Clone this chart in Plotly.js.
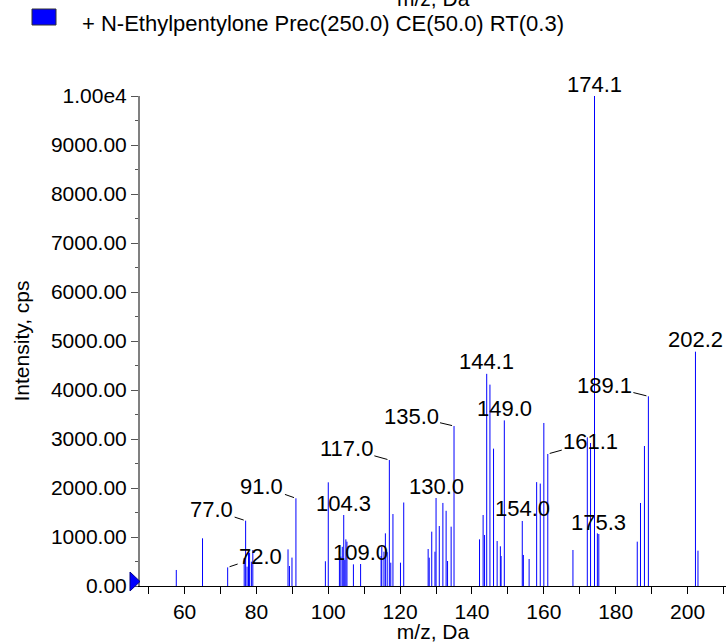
<!DOCTYPE html>
<html>
<head>
<meta charset="utf-8">
<script src="https://cdn.plot.ly/plotly-3.0.1.min.js"></script>
<style>
html,body{margin:0;padding:0;background:#fff;}
#chart{width:726px;height:643px;}
</style>
</head>
<body>
<div id="chart"></div>
<script>
// ---- data ----
const mz = [57.7, 65.0, 72.0, 76.6, 77.0, 77.4, 77.8, 78.1, 78.6, 79.0,
  88.8, 89.2, 89.9, 91.0, 99.2, 100.0, 103.1, 103.5, 103.9, 104.3,
  104.6, 104.9, 105.2, 107.0, 109.0, 114.7, 114.9, 115.5, 115.9, 116.4,
  117.0, 117.4, 118.0, 120.1, 121.0, 127.8, 128.1, 128.8, 129.7, 130.0,
  130.9, 131.9, 132.8, 133.2, 134.2, 135.0, 142.1, 143.1, 143.5, 144.1,
  145.0, 146.0, 147.0, 147.9, 148.1, 149.0, 154.0, 154.3, 155.9, 158.0,
  159.0, 160.0, 161.1, 168.1, 172.1, 173.0, 174.1, 174.9, 175.3, 186.0,
  186.9, 188.0, 189.1, 202.2, 202.9];
const intensity = [327, 973, 380, 570, 1333, 395, 700, 680, 496, 735,
  748, 408, 580, 1790, 505, 2116, 720, 600, 800, 1449,
  530, 952, 905, 442, 449, 612, 803, 700, 1075, 690,
  2571, 476, 1469, 476, 1704, 755, 578, 1109, 700, 1796,
  1224, 1695, 1535, 510, 1211, 3265, 952, 1449, 1041, 4330,
  4110, 2803, 918, 810, 612, 3380, 1327, 633, 551, 2120,
  2090, 3327, 2694, 735, 3034, 2918, 10000, 1075, 1061, 905,
  1694, 2857, 3871, 4782, 721];
const labelledMz = [72.0, 77.0, 91.0, 104.3, 109.0, 117.0, 130.0, 135.0,
  144.1, 149.0, 154.0, 161.1, 174.1, 175.3, 189.1, 202.2];
const yTickVals = [0, 1000, 2000, 3000, 4000, 5000, 6000, 7000, 8000, 9000, 10000];
const yTickText = ["0.00", "1000.00", "2000.00", "3000.00", "4000.00", "5000.00",
  "6000.00", "7000.00", "8000.00", "9000.00", "1.00e4"];
const seriesName = "+ N-Ethylpentylone Prec(250.0) CE(50.0) RT(0.3)";

// ---- styling / placement ----
const FONT = "Liberation Sans, Arial, sans-serif";
// label offsets in pixels (text centre relative to peak top); leader = drawn line
const labelOffsets = {
  "72.0": [33, -11, true], "77.0": [-34, -11, true], "91.0": [-34, -12, true],
  "117.0": [-43, -12, true], "135.0": [-43, -10, true], "161.1": [43, -12, true],
  "189.1": [-44, -11, true]
};

// stick spectrum built from the arrays
const xs = [], ys = [];
mz.forEach((m, i) => { xs.push(m, m, null); ys.push(0, intensity[i], null); });

const minorY = [];
for (let v = 500; v < 10000; v += 1000) minorY.push(v);

const annotations = labelledMz.map(m => {
  const idx = mz.indexOf(m);
  const off = labelOffsets[m.toFixed(1)] || [0, -12, false];
  return {
    x: m, y: intensity[idx], xref: "x", yref: "y",
    text: m.toFixed(1), showarrow: true, ax: off[0], ay: off[1],
    arrowhead: 0, arrowwidth: 1, standoff: 2,
    arrowcolor: off[2] ? "#000" : "rgba(0,0,0,0)",
    font: {family: FONT, size: 22, color: "#000"}
  };
});
// legend text
annotations.push({
  xref: "paper", yref: "paper", x: (80 - 140) / 586, y: (586 - 23) / 490,
  xanchor: "left", yanchor: "middle", showarrow: false,
  text: seriesName, font: {family: FONT, size: 22, color: "#000"}
});
// partially visible axis title of the panel above
annotations.push({
  xref: "paper", yref: "paper", x: 0.5, y: (586 + 1.5) / 490,
  xanchor: "center", yanchor: "middle", showarrow: false,
  text: "m/z, Da", font: {family: FONT, size: 21, color: "#000"}
});

const shapes = [
  // legend swatch
  {type: "rect", xref: "paper", yref: "paper",
   x0: (32 - 140) / 586, x1: (56 - 140) / 586,
   y0: (586 - 25) / 490, y1: (586 - 9) / 490,
   fillcolor: "#0000ff", line: {color: "#333", width: 1}},
  // baseline marker triangle
  {type: "path", xref: "paper", yref: "paper",
   path: "M " + (-10 / 586) + " " + (14 / 490) + " L " + (-10 / 586) + " " + (-5 / 490) +
         " L 0 " + (4.5 / 490) + " Z",
   fillcolor: "#0000ff", line: {color: "#00008b", width: 1}}
];

const data = [{
  type: "scatter", mode: "lines", x: xs, y: ys,
  line: {color: "#0000ff", width: 1}, hoverinfo: "skip", showlegend: false
}];

const layout = {
  width: 726, height: 643,
  margin: {l: 140, r: 0, t: 96, b: 57},
  paper_bgcolor: "#fff", plot_bgcolor: "#fff",
  showlegend: false,
  font: {family: FONT, size: 21, color: "#000"},
  xaxis: {
    range: [47.6, 210.7], showgrid: false, zeroline: false,
    showline: true, linecolor: "#000", linewidth: 1,
    ticks: "outside", ticklen: 7, tickcolor: "#000", tickwidth: 1,
    tick0: 0, dtick: 20,
    minor: {dtick: 10, tick0: 0, ticks: "outside", ticklen: 7, tickcolor: "#000", tickwidth: 1, showgrid: false},
    tickfont: {family: FONT, size: 21, color: "#000"},
    title: {text: "m/z, Da", font: {family: FONT, size: 21, color: "#000"}, standoff: 4}
  },
  yaxis: {
    range: [0, 10000], showgrid: false, zeroline: false,
    showline: true, linecolor: "#808080", linewidth: 2,
    ticks: "outside", ticklen: 7, tickcolor: "#555", tickwidth: 1,
    tickmode: "array", tickvals: yTickVals, ticktext: yTickText,
    minor: {tickmode: "array", tickvals: minorY, ticks: "outside", ticklen: 3, tickcolor: "#555", tickwidth: 1, showgrid: false},
    tickfont: {family: FONT, size: 21, color: "#000"},
    title: {text: "Intensity, cps", font: {family: FONT, size: 21, color: "#000"}, standoff: 16}
  },
  annotations: annotations,
  shapes: shapes
};

Plotly.newPlot("chart", data, layout, {staticPlot: true, displayModeBar: false});
</script>
</body>
</html>
